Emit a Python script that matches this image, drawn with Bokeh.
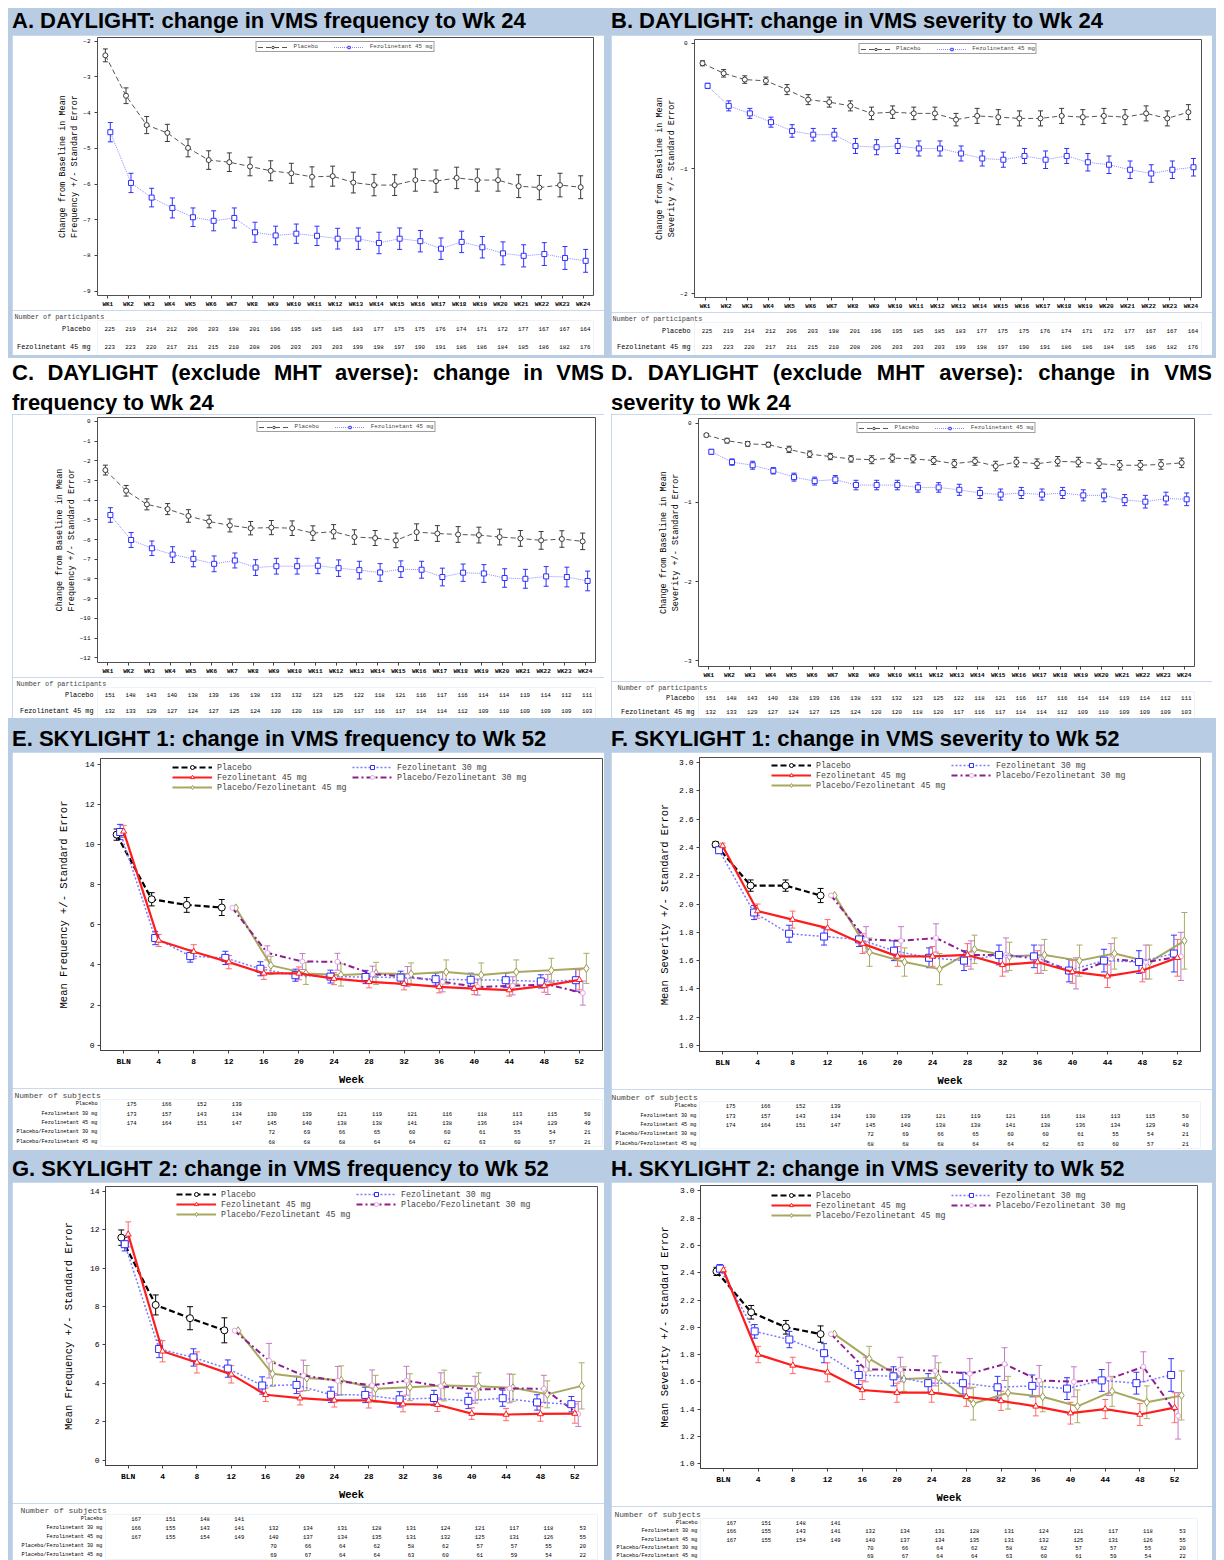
from bokeh.plotting import figure
from bokeh.models import (ColumnDataSource, FactorRange, Range1d, Legend, LegendItem,
                          FixedTicker, Spacer, NumeralTickFormatter, Div)
from bokeh.layouts import row, column
from bokeh.transform import dodge
from bokeh.core.properties import value
from bokeh.embed import file_html
from bokeh.resources import INLINE

# ------------------------------------------------------------------ data
wk_labels = ["WK1", "WK2", "WK3", "WK4", "WK5", "WK6", "WK7", "WK8", "WK9", "WK10", "WK11", "WK12",
             "WK13", "WK14", "WK15", "WK16", "WK17", "WK18", "WK19", "WK20", "WK21", "WK22", "WK23", "WK24"]
visits = ["BLN", "4", "8", "12", "16", "20", "24", "28", "32", "36", "40", "44", "48", "52"]

# A. DAYLIGHT frequency
a_pbo = [-2.40, -3.53, -4.35, -4.57, -4.99, -5.33, -5.39, -5.51, -5.63, -5.70, -5.80, -5.78,
         -5.96, -6.03, -6.03, -5.89, -5.92, -5.83, -5.89, -5.89, -6.06, -6.10, -6.03, -6.09]
a_pbo_se = [0.18, 0.22, 0.24, 0.24, 0.25, 0.26, 0.26, 0.26, 0.28, 0.28, 0.28, 0.28,
            0.29, 0.30, 0.29, 0.31, 0.31, 0.30, 0.31, 0.31, 0.32, 0.34, 0.33, 0.32]
a_fez = [-4.55, -5.97, -6.38, -6.67, -6.93, -7.03, -6.95, -7.35, -7.44, -7.39, -7.45, -7.53,
         -7.53, -7.65, -7.53, -7.60, -7.81, -7.62, -7.77, -7.94, -8.01, -7.96, -8.07, -8.15]
a_fez_se = [0.27, 0.27, 0.26, 0.28, 0.26, 0.28, 0.28, 0.28, 0.26, 0.27, 0.27, 0.29,
            0.30, 0.30, 0.30, 0.30, 0.30, 0.30, 0.30, 0.32, 0.31, 0.32, 0.32, 0.32]
# B. DAYLIGHT severity
b_pbo = [-0.16, -0.24, -0.29, -0.30, -0.37, -0.45, -0.47, -0.50, -0.56, -0.55, -0.56, -0.56,
         -0.61, -0.58, -0.59, -0.60, -0.60, -0.58, -0.59, -0.58, -0.59, -0.56, -0.60, -0.55]
b_pbo_se = [0.02, 0.03, 0.03, 0.03, 0.04, 0.04, 0.04, 0.04, 0.05, 0.05, 0.05, 0.05,
            0.05, 0.06, 0.06, 0.06, 0.06, 0.06, 0.06, 0.06, 0.06, 0.06, 0.06, 0.06]
b_fez = [-0.34, -0.50, -0.56, -0.63, -0.70, -0.73, -0.73, -0.82, -0.83, -0.82, -0.84, -0.84,
         -0.88, -0.92, -0.93, -0.90, -0.93, -0.90, -0.95, -0.97, -1.01, -1.04, -1.01, -0.99]
b_fez_se = [0.02, 0.04, 0.04, 0.04, 0.05, 0.05, 0.05, 0.06, 0.06, 0.06, 0.06, 0.06,
            0.06, 0.06, 0.06, 0.06, 0.07, 0.06, 0.07, 0.07, 0.07, 0.07, 0.07, 0.07]
# C. DAYLIGHT (exclude MHT averse) frequency
c_pbo = [-2.47, -3.52, -4.21, -4.45, -4.80, -5.08, -5.28, -5.42, -5.39, -5.42, -5.67, -5.60,
         -5.87, -5.92, -6.04, -5.62, -5.69, -5.74, -5.77, -5.87, -5.94, -6.04, -5.97, -6.09]
c_pbo_se = [0.25, 0.27, 0.28, 0.28, 0.32, 0.32, 0.33, 0.34, 0.36, 0.37, 0.37, 0.36,
            0.37, 0.38, 0.37, 0.42, 0.40, 0.40, 0.40, 0.40, 0.40, 0.45, 0.42, 0.42]
c_fez = [-4.75, -6.02, -6.44, -6.76, -6.98, -7.23, -7.06, -7.42, -7.35, -7.35, -7.33, -7.45,
         -7.55, -7.67, -7.50, -7.53, -7.90, -7.68, -7.72, -7.95, -7.99, -7.87, -7.90, -8.10]
c_fez_se = [0.37, 0.38, 0.37, 0.40, 0.40, 0.40, 0.38, 0.40, 0.40, 0.40, 0.40, 0.42,
            0.45, 0.45, 0.42, 0.43, 0.45, 0.44, 0.45, 0.47, 0.48, 0.50, 0.50, 0.50]
# D. DAYLIGHT (exclude MHT averse) severity
d_pbo = [-0.15, -0.22, -0.26, -0.27, -0.33, -0.39, -0.42, -0.45, -0.46, -0.44, -0.45, -0.47,
         -0.51, -0.48, -0.54, -0.49, -0.51, -0.48, -0.49, -0.51, -0.53, -0.53, -0.52, -0.50]
d_pbo_se = [0.02, 0.03, 0.03, 0.03, 0.04, 0.04, 0.04, 0.04, 0.05, 0.05, 0.05, 0.05,
            0.05, 0.05, 0.06, 0.06, 0.06, 0.06, 0.06, 0.06, 0.06, 0.06, 0.06, 0.06]
d_fez = [-0.36, -0.49, -0.53, -0.60, -0.68, -0.73, -0.71, -0.78, -0.78, -0.78, -0.81, -0.81,
         -0.84, -0.88, -0.90, -0.88, -0.90, -0.88, -0.91, -0.91, -0.97, -0.99, -0.95, -0.96]
d_fez_se = [0.03, 0.04, 0.05, 0.04, 0.05, 0.05, 0.05, 0.06, 0.06, 0.06, 0.06, 0.06,
            0.07, 0.07, 0.07, 0.07, 0.07, 0.07, 0.07, 0.08, 0.07, 0.08, 0.08, 0.08]

n_day_pbo = [225, 219, 214, 212, 206, 203, 198, 201, 196, 195, 185, 185,
             183, 177, 175, 175, 176, 174, 171, 172, 177, 167, 167, 164]
n_day_fez = [223, 223, 220, 217, 211, 215, 210, 208, 206, 203, 203, 203,
             199, 198, 197, 190, 191, 186, 186, 184, 185, 186, 182, 176]
n_mht_pbo = [151, 148, 143, 140, 138, 139, 136, 138, 133, 132, 123, 125,
             122, 118, 121, 116, 117, 116, 114, 114, 119, 114, 112, 111]
n_mht_fez = [132, 133, 129, 127, 124, 127, 125, 124, 120, 120, 118, 120,
             117, 116, 117, 114, 114, 112, 109, 110, 109, 109, 109, 103]

# E. SKYLIGHT 1 frequency (placebo: BLN-12; switch arms: 12-52)
e_pbo = [10.49, 7.27, 6.99, 6.86]
e_pbo_se = [0.28, 0.33, 0.37, 0.40]
e_f30 = [10.62, 5.34, 4.44, 4.35, 3.81, 3.49, 3.42, 3.40, 3.37, 3.29, 3.26, 3.24, 3.18, 3.24]
e_f30_se = [0.38, 0.33, 0.30, 0.33, 0.35, 0.30, 0.32, 0.33, 0.32, 0.30, 0.33, 0.35, 0.33, 0.55]
e_f45 = [10.65, 5.22, 4.66, 4.14, 3.58, 3.58, 3.32, 3.16, 3.06, 2.91, 2.82, 2.75, 2.96, 3.26]
e_f45_se = [0.30, 0.30, 0.35, 0.33, 0.30, 0.32, 0.30, 0.30, 0.30, 0.30, 0.30, 0.30, 0.32, 0.50]
e_pf30 = [6.84, 4.60, 4.17, 4.16, 3.54, 3.42, 3.16, 2.90, 2.96, 3.03, 2.60]
e_pf30_se = [0.35, 0.40, 0.42, 0.40, 0.50, 0.50, 0.40, 0.45, 0.50, 0.60]
e_pf45 = [6.84, 3.98, 3.58, 3.50, 3.58, 3.55, 3.65, 3.50, 3.65, 3.73, 3.83]
e_pf45_se = [0.45, 0.55, 0.55, 0.55, 0.55, 0.60, 0.60, 0.60, 0.60, 0.75]
# F. SKYLIGHT 1 severity
f_pbo = [2.42, 2.13, 2.13, 2.06]
f_pbo_se = [0.02, 0.04, 0.04, 0.05]
f_f30 = [2.38, 1.94, 1.79, 1.77, 1.75, 1.67, 1.62, 1.60, 1.64, 1.63, 1.53, 1.60, 1.59, 1.65]
f_f30_se = [0.02, 0.05, 0.06, 0.06, 0.05, 0.07, 0.07, 0.07, 0.07, 0.08, 0.08, 0.08, 0.08, 0.13]
f_f45 = [2.41, 1.95, 1.89, 1.83, 1.72, 1.63, 1.63, 1.64, 1.57, 1.59, 1.52, 1.49, 1.53, 1.62]
f_f45_se = [0.02, 0.05, 0.06, 0.06, 0.07, 0.07, 0.07, 0.08, 0.08, 0.08, 0.08, 0.08, 0.08, 0.13]
f_pf30 = [2.06, 1.75, 1.74, 1.76, 1.64, 1.64, 1.61, 1.51, 1.61, 1.59, 1.63]
f_pf30_se = [0.09, 0.10, 0.10, 0.10, 0.12, 0.10, 0.11, 0.11, 0.12, 0.17]
f_pf45 = [2.06, 1.66, 1.59, 1.54, 1.68, 1.63, 1.64, 1.60, 1.65, 1.59, 1.74]
f_pf45_se = [0.10, 0.10, 0.11, 0.10, 0.10, 0.11, 0.11, 0.11, 0.12, 0.20]
# G. SKYLIGHT 2 frequency
g_pbo = [11.58, 8.08, 7.39, 6.76]
g_pbo_se = [0.40, 0.52, 0.60, 0.65]
g_f30 = [11.24, 5.79, 5.35, 4.77, 3.89, 3.92, 3.41, 3.40, 3.17, 3.24, 3.09, 3.23, 3.01, 2.92]
g_f30_se = [0.35, 0.45, 0.45, 0.45, 0.45, 0.45, 0.40, 0.40, 0.40, 0.40, 0.40, 0.42, 0.40, 0.40]
g_f45 = [11.75, 5.67, 5.09, 4.47, 3.41, 3.23, 3.12, 3.12, 2.92, 2.89, 2.43, 2.38, 2.41, 2.43]
g_f45_se = [0.65, 0.55, 0.55, 0.45, 0.35, 0.35, 0.35, 0.40, 0.40, 0.35, 0.30, 0.32, 0.38, 0.50]
g_pf30 = [6.74, 5.18, 4.41, 4.13, 3.90, 4.14, 3.85, 3.67, 3.74, 3.72, 2.41]
g_pf30_se = [0.90, 0.80, 0.75, 0.80, 0.75, 0.70, 0.70, 0.75, 0.70, 0.65]
g_pf45 = [6.74, 4.50, 4.28, 4.16, 3.72, 3.80, 3.89, 3.85, 3.77, 3.43, 3.87]
g_pf45_se = [0.65, 0.65, 0.75, 0.70, 0.70, 0.80, 0.70, 0.70, 0.70, 1.20]
# H. SKYLIGHT 2 severity
h_pbo = [2.41, 2.11, 2.00, 1.95]
h_pbo_se = [0.03, 0.05, 0.05, 0.06]
h_f30 = [2.43, 1.97, 1.91, 1.81, 1.65, 1.64, 1.59, 1.59, 1.56, 1.57, 1.55, 1.61, 1.59, 1.65]
h_f30_se = [0.03, 0.05, 0.06, 0.07, 0.07, 0.07, 0.07, 0.08, 0.08, 0.08, 0.08, 0.08, 0.08, 0.12]
h_f45 = [2.42, 1.80, 1.72, 1.67, 1.54, 1.52, 1.52, 1.49, 1.46, 1.42, 1.37, 1.40, 1.36, 1.41]
h_f45_se = [0.02, 0.06, 0.06, 0.07, 0.07, 0.07, 0.07, 0.07, 0.07, 0.07, 0.08, 0.07, 0.08, 0.11]
h_pf30 = [1.95, 1.69, 1.69, 1.68, 1.66, 1.73, 1.61, 1.60, 1.62, 1.71, 1.35]
h_pf30_se = [0.09, 0.09, 0.11, 0.11, 0.12, 0.11, 0.11, 0.12, 0.11, 0.17]
h_pf45 = [1.95, 1.77, 1.62, 1.63, 1.44, 1.52, 1.49, 1.42, 1.53, 1.45, 1.50]
h_pf45_se = [0.09, 0.09, 0.11, 0.12, 0.12, 0.11, 0.12, 0.11, 0.12, 0.18]

n_s1_pbo = [175, 166, 152, 139]
n_s1_f30 = [173, 157, 143, 134, 130, 139, 121, 119, 121, 116, 118, 113, 115, 50]
n_s1_f45 = [174, 164, 151, 147, 145, 140, 138, 138, 141, 138, 136, 134, 129, 49]
n_s1_pf30 = [72, 69, 66, 65, 60, 60, 61, 55, 54, 21]
n_s1_pf45 = [68, 68, 68, 64, 64, 62, 63, 60, 57, 21]
n_s2_pbo = [167, 151, 148, 141]
n_s2_f30 = [166, 155, 143, 141, 132, 134, 131, 128, 131, 124, 121, 117, 118, 53]
n_s2_f45 = [167, 155, 154, 149, 140, 137, 134, 135, 131, 132, 125, 131, 126, 55]
n_s2_pf30 = [70, 66, 64, 62, 58, 62, 57, 57, 55, 20]
n_s2_pf45 = [69, 67, 64, 64, 63, 60, 61, 59, 54, 22]

titles = ["A. DAYLIGHT: change in VMS frequency to Wk 24",
          "B. DAYLIGHT: change in VMS severity to Wk 24",
          "C. DAYLIGHT (exclude MHT averse): change in VMS frequency to Wk 24",
          "D. DAYLIGHT (exclude MHT averse): change in VMS severity to Wk 24",
          "E. SKYLIGHT 1: change in VMS frequency to Wk 52",
          "F. SKYLIGHT 1: change in VMS severity to Wk 52",
          "G. SKYLIGHT 2: change in VMS frequency to Wk 52",
          "H. SKYLIGHT 2: change in VMS severity to Wk 52"]

# ------------------------------------------------------------------ styling
BG = "#b8cce4"
MONO = "Liberation Mono"


def base_fig(w, h, mb, xr, yr, **kw):
    p = figure(width=w, height=h, x_range=xr, y_range=yr, output_backend="svg",
               toolbar_location=None, min_border_left=mb[0], min_border_right=mb[1],
               min_border_top=mb[2], min_border_bottom=mb[3], **kw)
    p.background_fill_color = "white"
    p.border_fill_color = "white"
    p.outline_line_color = "#505050"
    p.xgrid.visible = False
    p.ygrid.visible = False
    for ax in list(p.xaxis) + list(p.yaxis):
        ax.major_label_text_font = MONO
        ax.axis_label_text_font = MONO
        ax.axis_label_text_font_style = "normal"
        ax.minor_tick_line_color = None
        ax.major_tick_in = 0
        ax.major_tick_out = 3
        ax.major_tick_line_color = "#404040"
        ax.axis_line_color = "#404040"
        ax.major_label_text_color = "black"
        ax.axis_label_text_color = "black"
    return p


def add_err(p, xs, m, se, off, color, cap, alpha=1.0, width=1):
    src = ColumnDataSource(dict(x=xs, lo=[a - b for a, b in zip(m, se)],
                                hi=[a + b for a, b in zip(m, se)]))
    xd = dodge("x", off, range=p.x_range)
    p.segment(x0=xd, y0="lo", x1=xd, y1="hi", source=src, line_color=color,
              line_alpha=alpha, line_width=width)
    for k in ("lo", "hi"):
        p.scatter(x=xd, y=k, source=src, marker="dash", size=cap, line_color=color,
                  line_alpha=alpha, line_width=width)


def add_line(p, xs, m, off, color, dash, width, marker, mcolor, msize):
    src = ColumnDataSource(dict(x=xs, y=m))
    xd = dodge("x", off, range=p.x_range)
    rl = p.line(x=xd, y="y", source=src, line_color=color, line_dash=dash, line_width=width)
    rm = p.scatter(x=xd, y="y", source=src, marker=marker, size=msize, line_color=mcolor,
                   fill_color="white", line_width=1)
    return [rl, rm]


def table_fig(p, w, h, mb, rows, title, title_size, title_off, lab_size, lab_stand, num_size, x_off, cols):
    t = figure(width=w, height=h, x_range=p.x_range, y_range=FactorRange(factors=list(reversed(rows))),
               output_backend="svg", toolbar_location=None, x_axis_location=None,
               min_border_left=mb[0], min_border_right=mb[1], min_border_top=mb[2],
               min_border_bottom=mb[3], title=title)
    t.outline_line_color = None
    t.background_fill_color = "white"
    t.border_fill_color = "white"
    t.xgrid.visible = False
    t.ygrid.visible = False
    ya = t.yaxis[0]
    ya.axis_line_color = None
    ya.major_tick_line_color = None
    ya.minor_tick_line_color = None
    ya.major_tick_out = 0
    ya.major_tick_in = 0
    ya.major_label_text_font = MONO
    ya.major_label_text_font_size = lab_size
    ya.major_label_standoff = lab_stand
    ya.major_label_text_color = "black"
    t.title.text_font = MONO
    t.title.text_font_size = title_size
    t.title.text_font_style = "normal"
    t.title.align = "left"
    t.title.offset = title_off
    t.title.standoff = 0
    for name, xs, nums in cols:
        src = ColumnDataSource(dict(x=xs, r=[name] * len(xs), t=[str(n) for n in nums]))
        t.text(x=dodge("x", 0, range=t.x_range), y="r", text="t", source=src,
               text_font=value(MONO), text_font_size=value(num_size), text_align="center",
               text_baseline="middle", x_offset=x_off, text_color="black")
    return t


def header(text, w, h, bg, lh, justify=False):
    st = {"background-color": bg, "font-family": "'Liberation Sans', Arial, sans-serif",
          "font-size": "22px", "font-weight": "bold", "color": "black",
          "line-height": f"{lh}px", "overflow": "hidden"}
    if justify:
        st["text-align"] = "justify"
    return Div(text=text, width=w, height=h, margin=0, styles=st)


def daylight(w, h, mb, th, tmb, yr, yticks, ylab, pbo, pbo_se, fez, fez_se, n_pbo, n_fez,
             num_off, lab_stand):
    p = base_fig(w, h, mb, FactorRange(factors=wk_labels), Range1d(*yr))
    p.yaxis.ticker = FixedTicker(ticks=yticks)
    p.xaxis.major_label_text_font_size = "6px"
    p.xaxis.major_label_text_font_style = "bold"
    p.xaxis.major_label_standoff = 2
    p.yaxis.major_label_text_font_size = "6px"
    p.yaxis.major_label_standoff = 4
    p.yaxis.axis_label = ylab
    p.yaxis.axis_label_text_font_size = "8.5px"
    p.yaxis.axis_label_standoff = 0
    p.xaxis.axis_line_color = None
    p.yaxis.axis_line_color = None
    add_err(p, wk_labels, pbo, pbo_se, -0.12, "#3a3a3a", 5)
    add_err(p, wk_labels, fez, fez_se, 0.12, "#3030ff", 5)
    r_p = add_line(p, wk_labels, pbo, -0.12, "#555555", "5 3", 1, "circle", "#3a3a3a", 5)
    r_f = add_line(p, wk_labels, fez, 0.12, "#8c8cff", "1 1", 1, "square", "#3030ff", 5)
    leg = Legend(items=[LegendItem(label="Placebo", renderers=r_p),
                        LegendItem(label="Fezolinetant 45 mg", renderers=r_f)],
                 orientation="horizontal", location="top_center", border_line_color="#404040",
                 label_text_font=MONO, label_text_font_size="5.8px", glyph_width=30,
                 glyph_height=6, label_height=6, padding=1, spacing=16, margin=4,
                 label_standoff=6, background_fill_alpha=1)
    p.add_layout(leg)
    t = table_fig(p, w, th, (mb[0], mb[1], tmb[0], tmb[1]), ["Placebo", "Fezolinetant 45 mg"],
                  "Number of participants", "6.8px", num_off, "6.8px", lab_stand, "5.8px", 2,
                  [("Placebo", wk_labels, n_pbo), ("Fezolinetant 45 mg", wk_labels, n_fez)])
    return p, t


ROWS = ["Placebo", "Fezolinetant 30 mg", "Fezolinetant 45 mg",
        "Placebo/Fezolinetant 30 mg", "Placebo/Fezolinetant 45 mg"]


def skylight(w, h, mb, th, tmb, yr, yticks, fmt, ylab, ystand, S, N, leg_loc, num_off, week_stand):
    p = base_fig(w, h, mb, FactorRange(factors=visits, range_padding=0.16,
                                       range_padding_units="absolute"), Range1d(*yr))
    p.yaxis.ticker = FixedTicker(ticks=yticks)
    if fmt:
        p.yaxis.formatter = NumeralTickFormatter(format=fmt)
    p.xaxis.major_label_text_font_size = "8px"
    p.xaxis.major_label_text_font_style = "bold"
    p.xaxis.major_label_standoff = 3
    p.yaxis.major_label_text_font_size = "8px"
    p.yaxis.major_label_standoff = 3
    p.yaxis.axis_label = ylab
    p.yaxis.axis_label_text_font_size = "10.5px"
    p.yaxis.axis_label_standoff = ystand
    p.xaxis.axis_label = "Week"
    p.xaxis.axis_label_text_font_size = "10.5px"
    p.xaxis.axis_label_text_font_style = "bold"
    p.xaxis.axis_label_standoff = week_stand
    pbo, pbo_se, f30, f30_se, f45, f45_se, pf30, pf30_se, pf45, pf45_se = S
    v_pbo = visits[:4]
    v_sw = visits[3:]
    add_err(p, v_pbo, pbo, pbo_se, -0.2, "black", 6)
    add_err(p, visits, f30, f30_se, -0.1, "#3535ff", 6)
    add_err(p, visits, f45, f45_se, 0.0, "#ff6a6a", 6)
    add_err(p, v_sw[1:], pf30[1:], pf30_se, 0.1, "#c57ac5", 6)
    add_err(p, v_sw[1:], pf45[1:], pf45_se, 0.2, "#acac68", 6)
    r_pbo = add_line(p, v_pbo, pbo, -0.2, "black", "6 3", 2.2, "circle", "black", 7)
    r_pf45 = add_line(p, v_sw, pf45, 0.2, "#a8a860", "solid", 2, "diamond", "#9a9a50", 8)
    r_pf30 = add_line(p, v_sw, pf30, 0.1, "#8e1e8e", "6 3 2 3", 2, "circle", "#e0a8e0", 5)
    r_f30 = add_line(p, visits, f30, -0.1, "#7a7aff", "2 2", 1.5, "square", "#2b2bff", 7)
    r_f45 = add_line(p, visits, f45, 0.0, "#ff1c1c", "solid", 2.2, "triangle", "#ff1c1c", 6)
    leg = Legend(items=[LegendItem(label=ROWS[0], renderers=r_pbo),
                        LegendItem(label=ROWS[2], renderers=r_f45),
                        LegendItem(label=ROWS[4], renderers=r_pf45),
                        LegendItem(label=ROWS[1], renderers=r_f30),
                        LegendItem(label=ROWS[3], renderers=r_pf30)],
                 nrows=3, location=leg_loc, border_line_color=None, background_fill_alpha=0,
                 label_text_font=MONO, label_text_font_size="8.3px", glyph_width=40,
                 glyph_height=10, label_height=10, label_width=135, padding=2, spacing=0,
                 margin=0, label_standoff=5)
    p.add_layout(leg)
    n_pbo, n_f30, n_f45, n_pf30, n_pf45 = N
    t = table_fig(p, w, th, (mb[0], mb[1], tmb[0], tmb[1]), ROWS, "Number of subjects", "8px",
                  num_off, "5.2px", 3, "5.5px", 8,
                  [(ROWS[0], visits[:4], n_pbo), (ROWS[1], visits, n_f30), (ROWS[2], visits, n_f45),
                   (ROWS[3], visits[4:], n_pf30), (ROWS[4], visits[4:], n_pf45)])
    return p, t


YL_FREQ = "Change from Baseline in Mean\nFrequency +/- Standard Error"
YL_SEV = "Change from Baseline in Mean\nSeverity +/- Standard Error"

pA, tA = daylight(592, 275, (85, 11, 2, 13), 45, (10, 0), (-9.12, -1.9),
                  [-2, -3, -4, -5, -6, -7, -8, -9], YL_FREQ,
                  a_pbo, a_pbo_se, a_fez, a_fez_se, n_day_pbo, n_day_fez, -83, 7)
pB, tB = daylight(601, 277, (83, 11, 4, 14), 43, (10, 0), (-2.03, 0.03), [0, -1, -2], YL_SEV,
                  b_pbo, b_pbo_se, b_fez, b_fez_se, n_day_pbo, n_day_fez, -82, 4)
pC, tC = daylight(592, 263, (85, 9, 3, 13), 41, (10, 0), (-12.24, 0.2),
                  list(range(0, -13, -1)), YL_FREQ,
                  c_pbo, c_pbo_se, c_fez, c_fez_se, n_mht_pbo, n_mht_fez, -81, 4)
pD, tD = daylight(601, 267, (87, 18, 4, 13), 37, (9, 0), (-3.07, 0.06), [0, -1, -2, -3], YL_SEV,
                  d_pbo, d_pbo_se, d_fez, d_fez_se, n_mht_pbo, n_mht_fez, -81, 4)

YT_F = [0, 2, 4, 6, 8, 10, 12, 14]
YT_S = [1.0, 1.2, 1.4, 1.6, 1.8, 2.0, 2.2, 2.4, 2.6, 2.8, 3.0]
pE, tE = skylight(592, 336, (88, 2, 6, 34), 62, (11, 4), (-0.26, 14.28), YT_F, None,
                  "Mean Frequency +/- Standard Error", 12,
                  (e_pbo, e_pbo_se, e_f30, e_f30_se, e_f45, e_f45_se, e_pf30, e_pf30_se, e_pf45, e_pf45_se),
                  (n_s1_pbo, n_s1_f30, n_s1_f45, n_s1_pf30, n_s1_pf45), (72, 258), -86, 5)
pF, tF = skylight(601, 337, (88, 12, 5, 33), 61, (12, 2), (0.958, 3.035), YT_S, "0.0",
                  "Mean Severity +/- Standard Error", 5,
                  (f_pbo, f_pbo_se, f_f30, f_f30_se, f_f45, f_f45_se, f_pf30, f_pf30_se, f_pf45, f_pf45_se),
                  (n_s1_pbo, n_s1_f30, n_s1_f45, n_s1_pf30, n_s1_pf45), (72, 261), -88, 5)
pG, tG = skylight(592, 321, (93, 7, 4, 32), 57, (11, 1), (-0.27, 14.24), YT_F, None,
                  "Mean Frequency +/- Standard Error", 12,
                  (g_pbo, g_pbo_se, g_f30, g_f30_se, g_f45, g_f45_se, g_pf30, g_pf30_se, g_pf45, g_pf45_se),
                  (n_s2_pbo, n_s2_f30, n_s2_f45, n_s2_pf30, n_s2_pf45), (71, 246), -85, 5)
pH, tH = skylight(601, 324, (89, 15, 3, 33), 54, (12, 0), (0.964, 3.04), YT_S, "0.0",
                  "Mean Severity +/- Standard Error", 6,
                  (h_pbo, h_pbo_se, h_f30, h_f30_se, h_f45, h_f45_se, h_pf30, h_pf30_se, h_pf45, h_pf45_se),
                  (n_s2_pbo, n_s2_f30, n_s2_f45, n_s2_pf30, n_s2_pf45), (71, 248), -86, 5)

hA = header(titles[0], 592, 27, BG, 26)
hB = header(titles[1], 601, 27, BG, 26)
hC = header(titles[2], 592, 56, "white", 30, justify=True)
hD = header(titles[3], 601, 56, "white", 30, justify=True)
hE = header(titles[4], 592, 27, BG, 28)
hF = header(titles[5], 601, 27, BG, 28)
hG = header(titles[6], 592, 27, BG, 28)
hH = header(titles[7], 601, 27, BG, 28)


def band(left, right, hh, white=False):
    kw = dict(styles={"background-color": "white"}) if white else {}
    return row(Spacer(width=4, height=hh, **kw), left, Spacer(width=7, height=hh, **kw), right,
               Spacer(width=4, height=hh, **kw), spacing=0)


page = column(
    band(column(hA, pA, tA, spacing=0), column(hB, pB, tB, spacing=0), 347),
    Spacer(width=1208, height=3),
    band(column(hC, pC, tC, spacing=0), column(hD, pD, tD, spacing=0), 360, white=True),
    Spacer(width=1208, height=7),
    band(column(hE, pE, tE, spacing=0), column(hF, pF, tF, spacing=0), 425),
    Spacer(width=1208, height=5),
    band(column(hG, pG, tG, spacing=0), column(hH, pH, tH, spacing=0), 405),
    spacing=0, styles={"background-color": BG},
)
doc_root = column(Spacer(width=1216, height=8), row(Spacer(width=8, height=1552), page, spacing=0),
                  spacing=0)

open("out.html", "w").write(file_html(doc_root, INLINE))
